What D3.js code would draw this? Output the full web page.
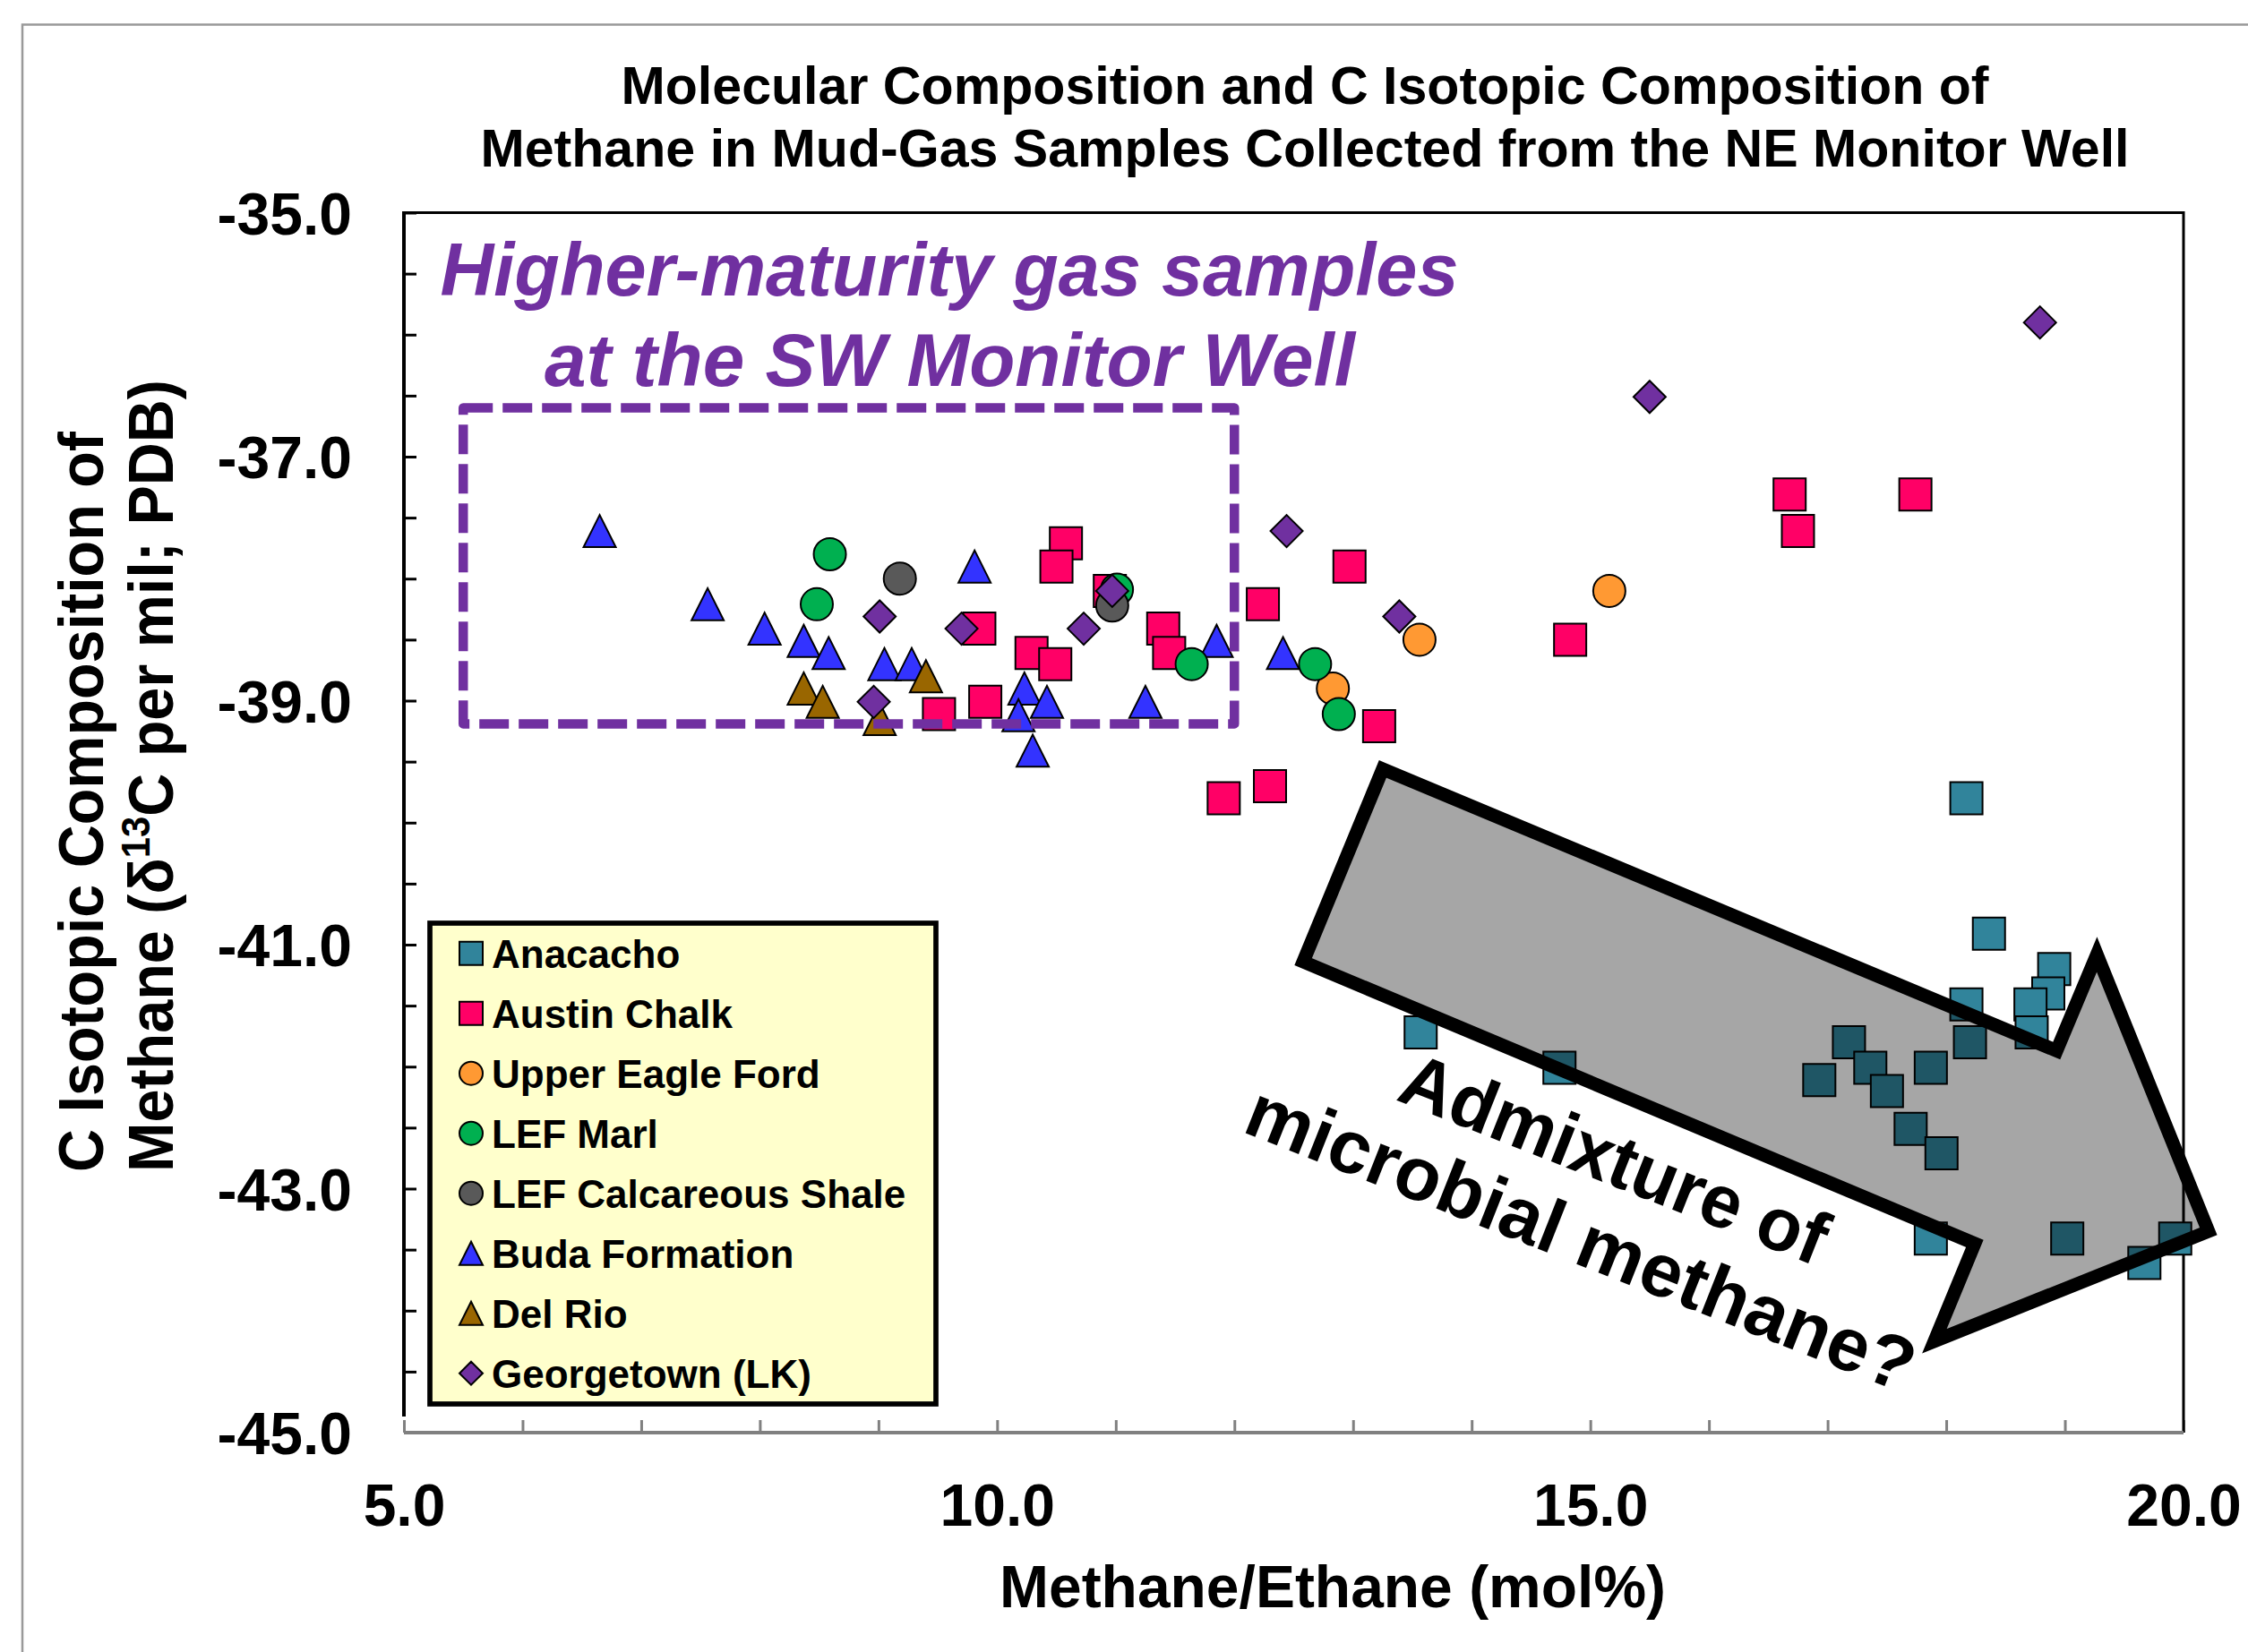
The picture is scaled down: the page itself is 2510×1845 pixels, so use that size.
<!DOCTYPE html>
<html>
<head>
<meta charset="utf-8">
<script src="https://cdn.jsdelivr.net/npm/d3@7/dist/d3.min.js"></script>
<style>
body { margin: 0; background: #fff; }
text { font-family: "Liberation Sans", Arial, sans-serif; font-weight: bold; }
</style>
</head>
<body>
<svg id="chart" width="2510" height="1845"></svg>
<script>
// values: [methane/ethane, d13C]
var anacacho = [[18.17,-39.80],[18.36,-40.91],[18.91,-41.20],[18.86,-41.40],[18.71,-41.49],[18.17,-41.49],
    [18.72,-41.72],[18.20,-41.80],[17.18,-41.80],[17.36,-42.01],[17.87,-42.01],[16.93,-42.11],[17.50,-42.20],
    [17.70,-42.51],[17.96,-42.71],[13.57,-41.72],[14.74,-42.01],[17.87,-43.41],[19.02,-43.41],[19.93,-43.41],[19.67,-43.61]];
var austinChalk = [[10.58,-37.71],[10.50,-37.90],[10.95,-38.10],[9.85,-38.41],[10.29,-38.61],[10.49,-38.70],
    [9.51,-39.11],[9.90,-39.01],[11.40,-38.41],[11.45,-38.61],[12.24,-38.21],[12.97,-37.90],[14.83,-38.50],
    [13.22,-39.21],[11.91,-39.80],[12.30,-39.70],[16.68,-37.31],[17.74,-37.31],[16.75,-37.61]];
var upperEagleFord = [[12.83,-38.90],[13.56,-38.50],[15.16,-38.10]];
var lefMarl = [[8.59,-37.80],[8.48,-38.21],[11.64,-38.70],[12.68,-38.70],[12.88,-39.11],[11.01,-38.09]];
var lefCalcShale = [[9.18,-38.00],[10.97,-38.22]];
var budaFormation = [[6.65,-37.61],[7.56,-38.21],[8.04,-38.41],[8.37,-38.51],[8.58,-38.61],[9.05,-38.70],
    [9.28,-38.70],[9.81,-37.90],[10.23,-38.90],[10.42,-39.01],[10.18,-39.12],[10.30,-39.41],[11.25,-39.01],
    [11.85,-38.51],[12.41,-38.61]];
var delRio = [[8.37,-38.90],[8.53,-39.01],[9.40,-38.80],[9.01,-39.15]];
var georgetown = [[9.01,-38.31],[9.70,-38.41],[8.96,-39.01],[10.97,-38.10],[10.73,-38.41],[12.44,-37.61],
    [13.39,-38.31],[15.50,-36.51],[18.79,-35.90]];

var legendNames = ['Anacacho', 'Austin Chalk', 'Upper Eagle Ford', 'LEF Marl', 'LEF Calcareous Shale',
    'Buda Formation', 'Del Rio', 'Georgetown (LK)'];
var xTicks = d3.range(5, 20.5, 1);
var xTickLabels = [5, 10, 15, 20];
var yTicks = d3.range(-45, -34.9, 0.5);
var yTickLabels = [-45, -43, -41, -39, -37, -35];

// annotations, in data units
var maturityBox = {x0: 5.5, x1: 12.0, y0: -36.6, y1: -39.19};
var arrowPts = [[13.25,-39.56],[18.93,-41.87],[19.27,-41.08],[20.21,-43.35],[17.90,-44.25],[18.24,-43.45],[12.58,-41.14]];

var series = [
    {name: 'Anacacho', data: anacacho, shape: 'square', color: '#31849B'},
    {name: 'Austin Chalk', data: austinChalk, shape: 'square', color: '#FF0066'},
    {name: 'Upper Eagle Ford', data: upperEagleFord, shape: 'circle', color: '#FF9933'},
    {name: 'Buda Formation', data: budaFormation, shape: 'triangle', color: '#3333FF'},
    {name: 'Del Rio', data: delRio, shape: 'triangle', color: '#996600'},
    {name: 'LEF Marl', data: lefMarl, shape: 'circle', color: '#00B050'},
    {name: 'LEF Calcareous Shale', data: lefCalcShale, shape: 'circle', color: '#595959'},
    {name: 'Georgetown (LK)', data: georgetown, shape: 'diamond', color: '#7030A0'}
];
function seriesByName(n) {
    return series.filter(function (s) { return s.name == n; })[0];
}

var svg = d3.select('#chart');
var L = 451, R = 2438, T = 237.5, B = 1600;
var x = d3.scaleLinear().domain([5, 20]).range([L, R]);
var y = d3.scaleLinear().domain([-45, -35]).range([B, T]);

//marker outline centred on 0,0 with box size s
function shapePath(shape, s) {
    var h = s / 2;
    if (shape == 'square') return 'M' + (-h) + ',' + (-h) + 'H' + h + 'V' + h + 'H' + (-h) + 'Z';
    if (shape == 'triangle') return 'M0,' + (-h) + 'L' + h + ',' + h + 'L' + (-h) + ',' + h + 'Z';
    if (shape == 'diamond') return 'M0,' + (-h) + 'L' + h + ',0L0,' + h + 'L' + (-h) + ',0Z';
    return d3.arc()({innerRadius: 0, outerRadius: h, startAngle: 0, endAngle: 2 * Math.PI});
}

// outer chart border
svg.append('rect').attr('x', 25).attr('y', 27.5).attr('width', 2600).attr('height', 1900)
    .attr('fill', 'none').attr('stroke', '#999').attr('stroke-width', 2.5);

// axes (ticks inward)
var yAxis = d3.axisLeft(y).tickValues(yTicks).tickSize(-14).tickPadding(58)
    .tickFormat(function (d) { return yTickLabels.indexOf(d) >= 0 ? d.toFixed(1) : ''; });
var gy = svg.append('g').attr('transform', 'translate(' + L + ',0)').call(yAxis);
gy.select('.domain').remove();
gy.selectAll('line').attr('stroke', '#000').attr('stroke-width', 3);
gy.selectAll('text').attr('font-size', 66).attr('dy', '0.36em').attr('fill', '#000');

var xAxis = d3.axisBottom(x).tickValues(xTicks).tickSize(-14).tickPadding(57)
    .tickFormat(function (d) { return xTickLabels.indexOf(d) >= 0 ? d.toFixed(1) : ''; });
var gx = svg.append('g').attr('transform', 'translate(0,' + B + ')').call(xAxis);
gx.select('.domain').remove();
gx.selectAll('line').attr('stroke', '#808080').attr('stroke-width', 3);
gx.selectAll('text').attr('font-size', 66).attr('fill', '#000');

// plot frame
svg.append('path').attr('d', 'M' + L + ',' + T + 'H' + R + 'V' + B)
    .attr('fill', 'none').attr('stroke', '#000').attr('stroke-width', 3);
svg.append('line').attr('x1', L).attr('x2', R).attr('y1', B).attr('y2', B)
    .attr('stroke', '#808080').attr('stroke-width', 4);
svg.append('line').attr('x1', L).attr('x2', L).attr('y1', T - 1.5).attr('y2', B - 18)
    .attr('stroke', '#000').attr('stroke-width', 4);

// markers
var gm = svg.append('g');
series.forEach(function (s) {
    gm.selectAll(null).data(s.data).enter().append('path')
        .attr('d', shapePath(s.shape, 36))
        .attr('transform', function (d) { return 'translate(' + x(d[0]) + ',' + y(d[1]) + ')'; })
        .attr('fill', s.color).attr('stroke', '#000').attr('stroke-width', 2);
});

// dashed box round the higher-maturity samples
svg.append('rect')
    .attr('x', x(maturityBox.x0)).attr('y', y(maturityBox.y0))
    .attr('width', x(maturityBox.x1) - x(maturityBox.x0))
    .attr('height', y(maturityBox.y1) - y(maturityBox.y0))
    .attr('fill', 'none').attr('stroke', '#7030A0').attr('stroke-width', 10.5)
    .attr('stroke-dasharray', '33,11').attr('stroke-linejoin', 'round');

svg.append('text').attr('x', 1060).attr('y', 330).attr('text-anchor', 'middle')
    .attr('font-size', 84).attr('font-style', 'italic').attr('fill', '#7030A0')
    .attr('textLength', 1137).attr('lengthAdjust', 'spacingAndGlyphs')
    .text('Higher-maturity  gas  samples');
svg.append('text').attr('x', 1060.5).attr('y', 431).attr('text-anchor', 'middle')
    .attr('font-size', 84).attr('font-style', 'italic').attr('fill', '#7030A0')
    .attr('textLength', 905).attr('lengthAdjust', 'spacingAndGlyphs')
    .text('at the SW Monitor Well');

// arrow (semi transparent so points show through darker)
var arrowLine = d3.line().x(function (d) { return x(d[0]); }).y(function (d) { return y(d[1]); });
svg.append('path').attr('d', arrowLine(arrowPts) + 'Z')
    .attr('fill', '#000').attr('fill-opacity', 0.35)
    .attr('stroke', '#000').attr('stroke-width', 15).attr('stroke-linejoin', 'miter').attr('stroke-miterlimit', 10);

var ga = svg.append('g').attr('transform', 'translate(1792,1321) rotate(21.6)');
ga.append('text').attr('x', 0).attr('y', 0).attr('text-anchor', 'middle')
    .attr('font-size', 84).attr('textLength', 505).attr('lengthAdjust', 'spacingAndGlyphs')
    .text('Admixture of');
ga.append('text').attr('x', -2).attr('y', 96).attr('text-anchor', 'middle')
    .attr('font-size', 84).attr('textLength', 795).attr('lengthAdjust', 'spacingAndGlyphs')
    .text('microbial methane?');

// legend
var gl = svg.append('g');
gl.append('rect').attr('x', 480).attr('y', 1031).attr('width', 565).attr('height', 537)
    .attr('fill', '#FFFFCC').attr('stroke', '#000').attr('stroke-width', 5.7);
legendNames.forEach(function (n, i) {
    var s = seriesByName(n);
    var cy = 1064.7 + 67 * i;
    gl.append('path').attr('d', shapePath(s.shape, 26))
        .attr('transform', 'translate(526,' + cy + ')')
        .attr('fill', s.color).attr('stroke', '#000').attr('stroke-width', 2);
    gl.append('text').attr('x', 549).attr('y', cy + 16).attr('font-size', 44).text(n);
});

// titles
svg.append('text').attr('x', 1457).attr('y', 116).attr('text-anchor', 'middle')
    .attr('font-size', 59).attr('textLength', 1527).attr('lengthAdjust', 'spacingAndGlyphs')
    .text('Molecular Composition and C Isotopic Composition of');
svg.append('text').attr('x', 1457).attr('y', 186).attr('text-anchor', 'middle')
    .attr('font-size', 59).attr('textLength', 1841).attr('lengthAdjust', 'spacingAndGlyphs')
    .text('Methane in Mud-Gas Samples Collected from the NE Monitor Well');

svg.append('text').attr('x', 1488).attr('y', 1795).attr('text-anchor', 'middle')
    .attr('font-size', 66).attr('textLength', 744).attr('lengthAdjust', 'spacingAndGlyphs')
    .text('Methane/Ethane (mol%)');

svg.append('text').attr('transform', 'translate(115,1309) rotate(-90)')
    .attr('font-size', 70).attr('textLength', 827).attr('lengthAdjust', 'spacingAndGlyphs')
    .text('C Isotopic Composition of');
var yt = svg.append('text').attr('transform', 'translate(193,1309) rotate(-90)')
    .attr('font-size', 70).attr('textLength', 885).attr('lengthAdjust', 'spacingAndGlyphs');
yt.append('tspan').text('Methane (\u03B4');
yt.append('tspan').attr('font-size', 44).attr('dy', -26).text('13');
yt.append('tspan').attr('dy', 26).text('C per mil; PDB)');
</script>
</body>
</html>
